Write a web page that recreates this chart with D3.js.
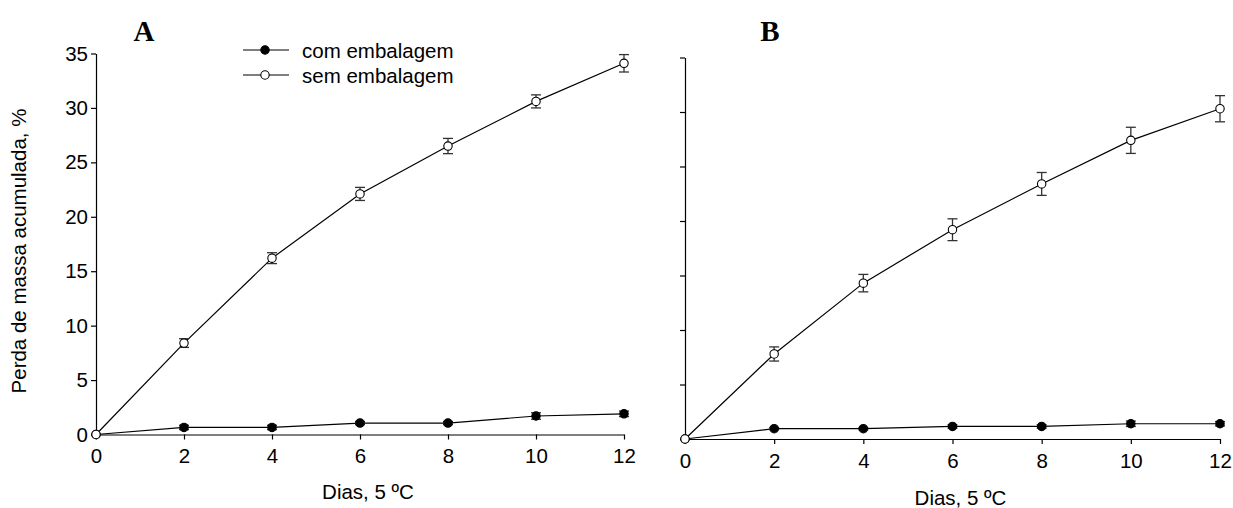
<!DOCTYPE html>
<html>
<head>
<meta charset="utf-8">
<script src="https://d3js.org/d3.v7.min.js"></script>
<style>
body { margin: 0; background: #fff; }
text { font-family: "Liberation Sans", Arial, sans-serif; }
</style>
</head>
<body>
<svg id="chart" width="1233" height="508"></svg>
<script>
// dias de armazenamento
const days = [0, 2, 4, 6, 8, 10, 12];
const yTicks = [0, 5, 10, 15, 20, 25, 30, 35];
const seriesNames = ["com embalagem", "sem embalagem"];

// painel A
const comA    = [0, 0.65, 0.65, 1.05, 1.05, 1.7, 1.9];
const comAErr = [0, 0.2, 0.2, 0.15, 0.15, 0.3, 0.25];
const semA    = [0, 8.4, 16.2, 22.1, 26.5, 30.6, 34.1];
const semAErr = [0, 0.4, 0.5, 0.6, 0.7, 0.6, 0.8];

// painel B
const comB    = [0, 0.95, 0.95, 1.15, 1.15, 1.4, 1.4];
const comBErr = [0, 0.1, 0.1, 0.15, 0.15, 0.25, 0.2];
const semB    = [0, 7.8, 14.3, 19.2, 23.4, 27.4, 30.3];
const semBErr = [0, 0.65, 0.8, 1.0, 1.05, 1.2, 1.2];

const FS = 20.5;
const svg = d3.select("#chart");

const panels = [
  { label: "A", labelX: 144, x0: 96, x1: 624, y0: 434.5, y1: 53.5, yLabels: true, xTitleY: 498.5,
    com: comA, comErr: comAErr, sem: semA, semErr: semAErr },
  { label: "B", labelX: 770, x0: 685, x1: 1220, y0: 439, y1: 57.5, yLabels: false, xTitleY: 505,
    com: comB, comErr: comBErr, sem: semB, semErr: semBErr }
];

panels.forEach(p => {
  const x = d3.scaleLinear().domain([0, 12]).range([p.x0, p.x1]);
  const y = d3.scaleLinear().domain([0, 35]).range([p.y0, p.y1]);
  const g = svg.append("g");

  const yAxis = d3.axisLeft(y).tickValues(yTicks).tickSize(5).tickSizeOuter(0).tickPadding(3);
  if (!p.yLabels) yAxis.tickFormat("");
  g.append("g").attr("transform", "translate(" + p.x0 + ",0)").call(yAxis)
    .call(a => a.selectAll("text").attr("font-size", FS).attr("font-family", "Liberation Sans, Arial").attr("fill", "#000"));

  g.append("g").attr("transform", "translate(0," + p.y0 + ")")
    .call(d3.axisBottom(x).tickValues(days).tickSize(5).tickSizeOuter(0).tickPadding(9))
    .call(a => a.selectAll("text").attr("font-size", FS).attr("font-family", "Liberation Sans, Arial").attr("fill", "#000"));

  g.selectAll(".domain, .tick line").attr("stroke", "#000").attr("stroke-width", 1.2);

  // titulo do painel
  g.append("text")
    .attr("x", p.labelX)
    .attr("y", 40.5)
    .attr("text-anchor", "middle")
    .style("font-family", "Liberation Serif, Times New Roman, serif")
    .style("font-weight", "bold")
    .style("font-size", "29px")
    .text(p.label);

  g.append("text")
    .attr("x", (p.x0 + p.x1) / 2 + 8)
    .attr("y", p.xTitleY)
    .attr("text-anchor", "middle")
    .attr("font-size", FS)
    .text("Dias, 5 ºC");

  const line = d3.line().x(d => x(d.day)).y(d => y(d.v));

  [["com", "#000"], ["sem", "#fff"]].forEach(([key, fill]) => {
    const pts = days.map((day, i) => ({ day: day, v: p[key][i], e: p[key + "Err"][i] }));

    g.append("path").datum(pts).attr("d", line)
      .attr("fill", "none").attr("stroke", "#000").attr("stroke-width", 1.2);

    const eb = g.append("g").selectAll("g").data(pts.filter(d => d.e > 0)).join("g")
      .attr("stroke", "#333").attr("stroke-width", 1.3);
    eb.append("line")
      .attr("x1", d => x(d.day)).attr("x2", d => x(d.day))
      .attr("y1", d => y(d.v + d.e)).attr("y2", d => y(d.v - d.e));
    [1, -1].forEach(s => {
      eb.append("line")
        .attr("x1", d => x(d.day) - 5).attr("x2", d => x(d.day) + 5)
        .attr("y1", d => y(d.v + s * d.e)).attr("y2", d => y(d.v + s * d.e));
    });

    g.append("g").selectAll("circle").data(pts).join("circle")
      .attr("cx", d => x(d.day))
      .attr("cy", d => y(d.v))
      .attr("r", 4.2)
      .attr("fill", fill).attr("stroke", "#000").attr("stroke-width", 1.1);
  });
});

// rotulo do eixo y
svg.append("text")
  .attr("transform", "translate(26,251) rotate(-90)")
  .attr("text-anchor", "middle")
  .attr("font-size", FS)
  .text("Perda de massa acumulada, %");

// legenda
const legend = svg.append("g");
seriesNames.forEach((name, i) => {
  const ly = 50 + i * 25;
  legend.append("line").attr("x1", 243).attr("x2", 289).attr("y1", ly).attr("y2", ly)
    .attr("stroke", "#000").attr("stroke-width", 1.2);
  legend.append("circle").attr("cx", 265).attr("cy", ly).attr("r", 4.2)
    .attr("fill", i == 0 ? "#000" : "#fff").attr("stroke", "#000").attr("stroke-width", 1.1);
  legend.append("text").attr("x", 302).attr("y", ly + 8).attr("font-size", FS).text(name);
});
</script>
</body>
</html>
